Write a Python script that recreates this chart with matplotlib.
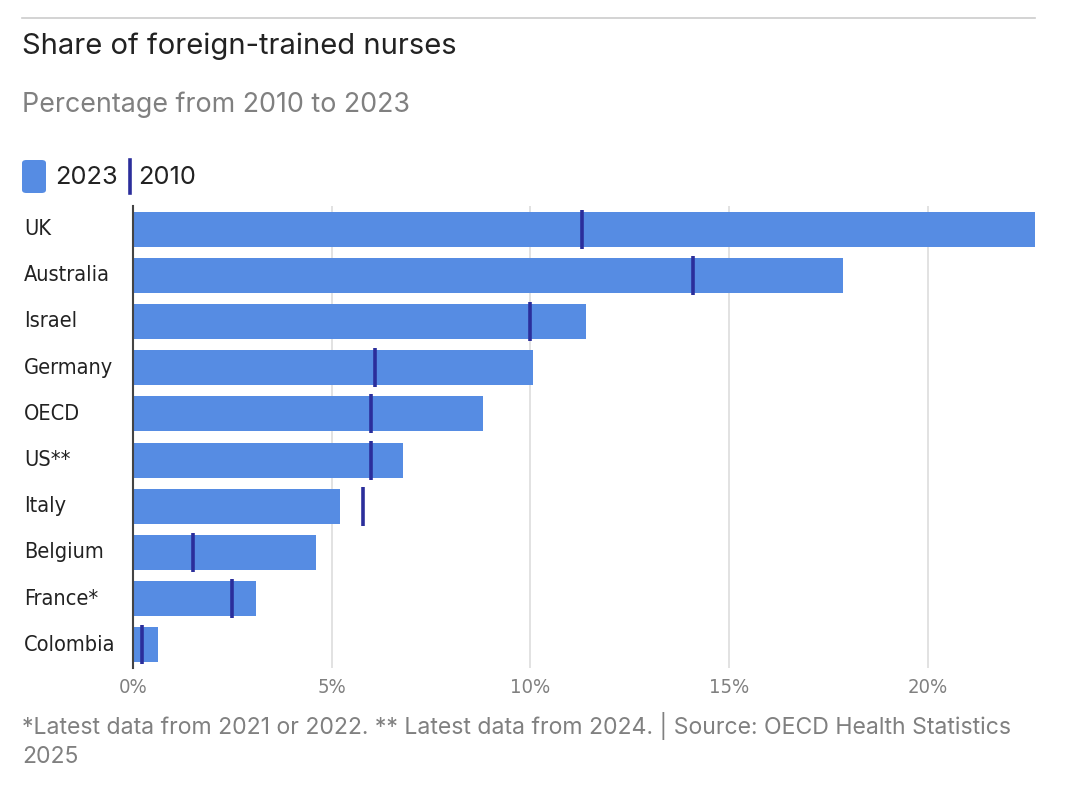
import matplotlib
matplotlib.use("Agg")
import matplotlib.pyplot as plt
from matplotlib.patches import FancyBboxPatch
from matplotlib.lines import Line2D
from matplotlib.transforms import blended_transform_factory

countries = ["UK", "Australia", "Israel", "Germany", "OECD", "US**", "Italy", "Belgium", "France*", "Colombia"]
share_2023 = [22.7, 17.87, 11.39, 10.07, 8.8, 6.8, 5.2, 4.6, 3.1, 0.62]
share_2010 = [11.3, 14.1, 10.0, 6.1, 6.0, 6.0, 5.8, 1.5, 2.5, 0.23]
xticks = [0, 5, 10, 15, 20]
xtick_labels = ["0%", "5%", "10%", "15%", "20%"]

BAR = "#568ce3"
MARK = "#2b2e9b"
GRID = "#dddddd"
GRAY = "#808080"
DARK = "#222222"
COND = ["DejaVu Sans"]
MAIN = ["Inter", "DejaVu Sans"]

W, H = 1080, 786
fig = plt.figure(figsize=(W / 100, H / 100), dpi=100)

def fx(px):
    return px / W

def fy(py):
    return 1 - py / H

ax = fig.add_axes([fx(133), fy(668), fx(1035) - fx(133), fy(206) - fy(668)])
ypos = list(range(len(countries)))
ax.barh(ypos, share_2023, height=0.76, color=BAR, zorder=2)
ax.errorbar(share_2010, ypos, yerr=0.42, fmt="none", ecolor=MARK, elinewidth=2.6, capsize=0, zorder=3)
ax.set_xlim(0, 22.7)
ax.set_ylim(9.5, -0.5)
ax.set_xticks(xticks)
ax.set_xticklabels(xtick_labels, family=COND, fontstretch="condensed", fontsize=14.5, color=GRAY)
ax.set_yticks([])
tr = blended_transform_factory(fig.transFigure, ax.transData)
for y, name in zip(ypos, countries):
    fig.text(fx(24), y, name, transform=tr, family=COND, fontstretch="condensed", fontsize=15.6,
             color=DARK, ha="left", va="center")
ax.tick_params(axis="x", length=0, pad=7)
for x in xticks[1:]:
    ax.axvline(x, color=GRID, lw=1.2, zorder=1)
for s in ["top", "right", "bottom"]:
    ax.spines[s].set_visible(False)
ax.spines["left"].set_color("#444444")
ax.spines["left"].set_linewidth(1.5)
ax.spines["left"].set_zorder(4)

# top rule
fig.add_artist(Line2D([fx(22), fx(1035)], [fy(18), fy(18)], color="#cccccc", lw=1.2))

fig.text(fx(22), fy(46), "Share of foreign-trained nurses", family=MAIN, fontsize=21,
         color=DARK, va="center", ha="left")
fig.text(fx(22), fy(105), "Percentage from 2010 to 2023", family=MAIN, fontsize=19.3,
         color=GRAY, va="center", ha="left")

# legend
fig.add_artist(FancyBboxPatch((fx(22), fy(193)), fx(24), fy(160) - fy(193),
                              boxstyle="round,pad=0,rounding_size=0.004",
                              transform=fig.transFigure, color=BAR, lw=0))
fig.text(fx(55), fy(177), "2023", family=MAIN, fontsize=18.3, color=DARK, va="center", ha="left")
fig.add_artist(Line2D([fx(130), fx(130)], [fy(160), fy(193)], color=MARK, lw=2.6))
fig.text(fx(138), fy(177), "2010", family=MAIN, fontsize=18.3, color=DARK, va="center", ha="left")

fig.text(fx(22), fy(726), "*Latest data from 2021 or 2022. ** Latest data from 2024. | Source: OECD Health Statistics",
         family=MAIN, fontsize=16.6, color=GRAY, va="center", ha="left")
fig.text(fx(22), fy(757), "2025", family=MAIN, fontsize=16.6, color=GRAY, va="center", ha="left")

fig.savefig("out.png", dpi=100)
